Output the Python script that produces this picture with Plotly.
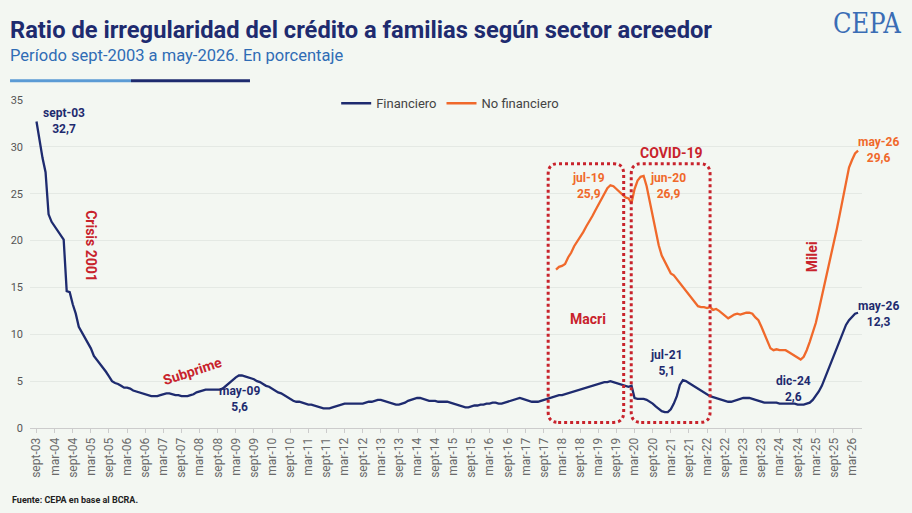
import plotly.graph_objects as go

# Categorías mensuales: sept-03 a may-26
meses_es = ['ene', 'feb', 'mar', 'abr', 'may', 'jun', 'jul', 'ago', 'sept', 'oct', 'nov', 'dic']
meses = []
for anio in range(2003, 2027):
    for i, mes in enumerate(meses_es):
        if (anio == 2003 and i < 8) or (anio == 2026 and i > 4):
            continue
        meses.append(f"{mes}-{str(anio)[2:]}")

# Ratio de irregularidad - sector financiero (%), sept-03 a may-26
financiero = [
    32.7, 30.5, 28.8, 27.3,                                          # 2003
    22.8, 22.0, 21.5, 21.0, 20.5, 20.1, 14.6, 14.5, 13.2, 12.2, 10.8, 10.2,  # 2004
    9.7, 9.1, 8.5, 7.7, 7.3, 6.9, 6.5, 6.0, 5.5, 5.0, 4.8, 4.7,     # 2005
    4.5, 4.3, 4.3, 4.2, 4.0, 3.9, 3.8, 3.7, 3.6, 3.5, 3.4, 3.4,     # 2006
    3.4, 3.5, 3.6, 3.7, 3.7, 3.6, 3.5, 3.5, 3.4, 3.4, 3.4, 3.5,     # 2007
    3.6, 3.8, 3.9, 4.0, 4.1, 4.1, 4.1, 4.1, 4.1, 4.1, 4.3, 4.6,     # 2008
    4.9, 5.2, 5.4, 5.6, 5.6, 5.5, 5.4, 5.3, 5.2, 5.0, 4.9, 4.7,     # 2009
    4.5, 4.4, 4.2, 4.0, 3.8, 3.7, 3.5, 3.3, 3.1, 2.9, 2.8, 2.8,     # 2010
    2.7, 2.6, 2.5, 2.5, 2.4, 2.3, 2.2, 2.1, 2.1, 2.1, 2.2, 2.3,     # 2011
    2.4, 2.5, 2.6, 2.6, 2.6, 2.6, 2.6, 2.6, 2.6, 2.7, 2.8, 2.8,     # 2012
    2.9, 3.0, 3.0, 2.9, 2.8, 2.7, 2.6, 2.5, 2.5, 2.6, 2.7, 2.9,     # 2013
    3.0, 3.1, 3.2, 3.2, 3.1, 3.0, 2.9, 2.9, 2.9, 2.8, 2.8, 2.8,     # 2014
    2.8, 2.7, 2.6, 2.5, 2.4, 2.3, 2.2, 2.2, 2.3, 2.4, 2.4, 2.5,     # 2015
    2.5, 2.6, 2.6, 2.7, 2.7, 2.6, 2.6, 2.7, 2.8, 2.9, 3.0, 3.1,     # 2016
    3.2, 3.1, 3.0, 2.9, 2.8, 2.8, 2.8, 2.9, 3.0, 3.1, 3.2, 3.3,     # 2017
    3.4, 3.5, 3.5, 3.6, 3.7, 3.8, 3.9, 4.0, 4.1, 4.2, 4.3, 4.4,     # 2018
    4.5, 4.6, 4.7, 4.8, 4.9, 4.9, 5.0, 4.9, 4.8, 4.7, 4.6, 4.5,     # 2019
    4.4, 4.5, 3.2, 3.1, 3.1, 3.1, 3.0, 2.8, 2.6, 2.3, 2.0, 1.8,     # 2020
    1.7, 1.7, 2.0, 2.6, 3.4, 4.6, 5.1, 5.0, 4.8, 4.6, 4.4, 4.2,     # 2021
    4.0, 3.8, 3.6, 3.4, 3.3, 3.2, 3.1, 3.0, 2.9, 2.8, 2.8, 2.9,     # 2022
    3.0, 3.1, 3.2, 3.2, 3.2, 3.1, 3.0, 2.9, 2.8, 2.7, 2.7, 2.7,     # 2023
    2.7, 2.7, 2.6, 2.6, 2.6, 2.6, 2.6, 2.6, 2.5, 2.5, 2.5, 2.6,     # 2024
    2.7, 3.0, 3.4, 3.9, 4.5, 5.3, 6.0, 6.8, 7.6, 8.4, 9.3, 10.2,    # 2025
    11.0, 11.5, 11.9, 12.2, 12.3,                                    # 2026
]

# Ratio de irregularidad - sector no financiero (%), desde ene-18
no_financiero = [
    16.9, 17.2, 17.3, 17.5, 18.2, 18.7, 19.4, 19.9, 20.3, 20.9, 21.5, 22.0,  # 2018
    22.6, 23.2, 23.8, 24.5, 25.1, 25.6, 25.9, 25.8, 25.5, 25.2, 24.9, 24.6,  # 2019
    24.5, 24.0, 25.5, 26.4, 26.8, 26.9, 25.8, 24.3, 22.8, 21.0, 19.5, 18.4,  # 2020
    17.8, 17.1, 16.5, 16.3, 15.9, 15.4, 15.1, 14.7, 14.2, 13.8, 13.4, 13.0,  # 2021
    12.9, 12.9, 12.8, 12.9, 12.6, 12.7, 12.5, 12.2, 11.9, 11.7, 11.9, 12.1,  # 2022
    12.2, 12.1, 12.2, 12.3, 12.3, 12.2, 11.8, 11.5, 10.8, 10.0, 9.2, 8.5,    # 2023
    8.3, 8.4, 8.3, 8.3, 8.3, 8.1, 7.9, 7.7, 7.5, 7.3, 7.6, 8.3,              # 2024
    9.2, 10.1, 11.2, 12.6, 14.0, 15.6, 17.0, 18.3, 19.8, 21.3, 22.9, 24.5,   # 2025
    26.5, 27.8, 28.6, 29.3, 29.6,                                            # 2026
]
meses_nf = meses[meses.index('ene-18'):]

tick_labels = meses[::6]

NAVY = '#1e2b6f'
ORANGE = '#f0692b'
RED = '#c8232c'
BLUE = '#2f6cb5'
BG = '#f3f7f2'
FONT = 'Roboto'

fig = go.Figure()
fig.add_trace(go.Scatter(x=meses, y=financiero, mode='lines', name='Financiero',
                         line=dict(color=NAVY, width=2.3)))
fig.add_trace(go.Scatter(x=meses_nf, y=no_financiero, mode='lines', name='No financiero',
                         line=dict(color=ORANGE, width=2.3)))

fig.update_layout(
    width=912, height=513,
    margin=dict(l=30, r=50, t=100, b=85),
    paper_bgcolor=BG, plot_bgcolor=BG,
    font=dict(family=FONT, color='#555555', size=11),
    showlegend=True,
    legend=dict(orientation='h', x=0.368, y=0.99, xanchor='left', yanchor='middle',
                font=dict(size=13, color='#444444'), bgcolor='rgba(0,0,0,0)',
                itemwidth=30, traceorder='normal'),
)

fig.update_xaxes(
    type='category', range=[-2.15, 273.3],
    tickmode='array', tickvals=tick_labels, ticktext=tick_labels,
    tickangle=-90, tickfont=dict(size=12, color='#6a6a6a'),
    showgrid=False, showline=True, linecolor='#cccccc', linewidth=1,
    ticks='outside', ticklen=4, tickcolor='#cccccc',
)
fig.update_yaxes(
    range=[0, 35], dtick=5, tickfont=dict(size=11, color='#555555'),
    showgrid=True, gridcolor='#e4e9e4', gridwidth=1, zeroline=False,
    ticks='', ticklabelstandoff=6,
)

# Cajas punteadas (Macri y COVID-19)
def caja(x0, x1, y0, y1, rx=3.3, ry=1.1):
    return (f"M {x0+rx},{y0} L {x1-rx},{y0} Q {x1},{y0} {x1},{y0+ry} "
            f"L {x1},{y1-ry} Q {x1},{y1} {x1-rx},{y1} L {x0+rx},{y1} "
            f"Q {x0},{y1} {x0},{y1-ry} L {x0},{y0+ry} Q {x0},{y0} {x0+rx},{y0} Z")

for x0, x1 in [(169.4, 194.4), (196.9, 223.0)]:
    fig.add_shape(type='path', path=caja(x0, x1, 0.6, 28.2), xref='x', yref='y',
                  line=dict(color=RED, width=3, dash='dot'))

# Líneas decorativas bajo el subtítulo
fig.add_shape(type='line', xref='paper', yref='paper', x0=-0.024, x1=0.1214, y0=1.0589, y1=1.0589,
              line=dict(color='#5b9bd5', width=3))
fig.add_shape(type='line', xref='paper', yref='paper', x0=0.1214, x1=0.2644, y0=1.0589, y1=1.0589,
              line=dict(color=NAVY, width=3))

anots = [
    # texto, x, y, color
    ('sept-03<br>32,7', 0.041, 0.936, NAVY),
    ('may-09<br>5,6', 0.2524, 0.0869, NAVY),
    ('jul-21<br>5,1', 0.7652, 0.1982, NAVY),
    ('dic-24<br>2,6', 0.9175, 0.1198, NAVY),
    ('may-26<br>12,3', 1.0196, 0.3485, NAVY),
    ('may-26<br>29,6', 1.0196, 0.8466, ORANGE),
    ('jul-19<br>25,9', 0.671, 0.7384, ORANGE),
    ('jun-20<br>26,9', 0.7672, 0.7384, ORANGE),
]
for texto, x, y, color in anots:
    fig.add_annotation(text=texto, x=x, y=y, xref='paper', yref='paper', showarrow=False,
                       xanchor='center', yanchor='middle', align='center',
                       font=dict(size=12, color=color, family=FONT, weight='bold'))

eventos = [
    ('Crisis 2001', 0.0741, 0.5555, 90),
    ('Subprime', 0.1955, 0.1738, -18),
    ('Macri', 0.671, 0.3314, 0),
    ('COVID-19', 0.7712, 0.8394, 0),
    ('Milei', 0.9395, 0.5223, -90),
]
for texto, x, y, ang in eventos:
    fig.add_annotation(text=texto, x=x, y=y, xref='paper', yref='paper', showarrow=False,
                       xanchor='center', yanchor='middle', textangle=ang,
                       font=dict(size=14, color=RED, family=FONT, weight='bold'))

# Título, subtítulo, logo y fuente
fig.add_annotation(text='Ratio de irregularidad del crédito a familias según sector acreedor',
                   x=-0.0264, y=1.213, xref='paper', yref='paper', xanchor='left', yanchor='middle',
                   showarrow=False, font=dict(size=23.7, color=NAVY, family=FONT, weight='bold'))
fig.add_annotation(text='Período sept-2003 a may-2026. En porcentaje',
                   x=-0.0264, y=1.137, xref='paper', yref='paper', xanchor='left', yanchor='middle',
                   showarrow=False, font=dict(size=16.5, color=BLUE, family=FONT))
fig.add_annotation(text='CEPA', x=1.0064, y=1.232, xref='paper', yref='paper', showarrow=False,
                   xanchor='center', yanchor='middle',
                   font=dict(size=27, color='#3a6db5', family='DejaVu Serif Condensed, Liberation Serif'))
fig.add_annotation(text='Fuente: CEPA en base al BCRA.', x=-0.024, y=-0.2195, xref='paper', yref='paper',
                   xanchor='left', yanchor='middle', showarrow=False,
                   font=dict(size=9, color='#222222', family=FONT, weight='bold'))

# quitar el margen por defecto del <body> para que la figura ocupe la ventana
fig.write_html("out.html", config={'displayModeBar': False},
               post_script="document.body.style.margin='0';document.body.style.background='" + BG + "';")
